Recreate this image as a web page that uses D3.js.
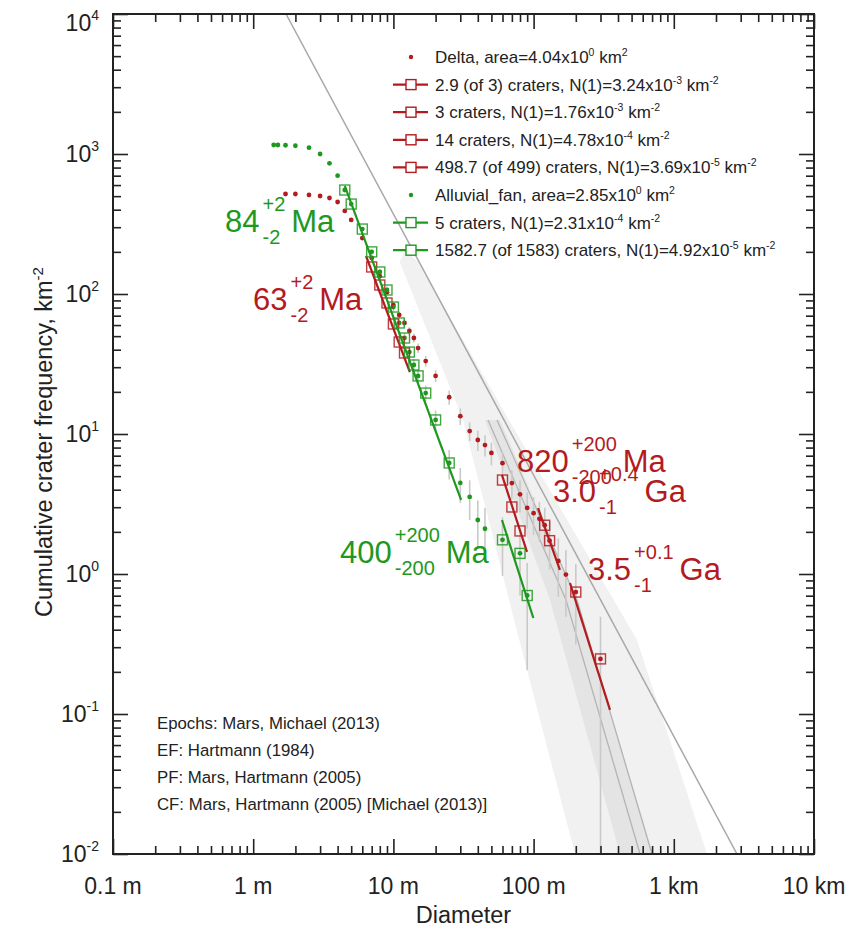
<!DOCTYPE html>
<html><head><meta charset="utf-8">
<script src="https://cdn.jsdelivr.net/npm/d3@7"></script>
<style>body{margin:0;background:#fff} text{font-family:"Liberation Sans",Arial,Helvetica,sans-serif}</style>
</head><body><svg id="c" width="849" height="934"></svg>
<script>
// ---------------- data ----------------
// Delta (red) cumulative crater frequency; D in metres, N in km^-2, sigma = error (km^-2)
const deltaD = [1.7,2,2.5,3,3.5,4,4.5,5,6,7,8,9,10,11,12,13,14,15,17,20,25,30,35,40,45,50,60,70,80,90,100,110,120,130,150,170,200,300];
const deltaN = [518,518,510,501,485,454,392,338,251,181,134,103,83.4,70.8,62.1,54.4,48.5,41.1,33.2,26.0,18.3,13.4,10.5,9.06,8.34,7.32,6.19,4.46,3.71,2.97,2.72,2.48,2.23,1.73,1.24,0.99,0.743,0.2475];
const deltaSigma = [11.3,11.3,11.2,11.1,10.96,10.6,9.85,9.15,7.88,6.69,5.76,5.05,4.54,4.19,3.92,3.67,3.46,3.19,2.87,2.54,2.13,1.82,1.61,1.50,1.44,1.35,1.24,1.05,0.958,0.857,0.821,0.783,0.743,0.654,0.554,0.495,0.429,0.2475];
// Alluvial fan (green)
const fanD = [1.4,1.5,1.7,2,2.5,3,3.5,4,4.5,5,6,7,8,9,10,11,12,13,14,15,17,20,25,30,35,40,45,60,80,90];
const fanN = [1160,1160,1155,1145,1109,1000,858,700,553,439,291,200,143.6,106.8,80.7,62.1,48.5,38.5,31.1,26.0,19.6,12.6,6.21,4.47,3.55,2.43,2.105,1.754,1.404,0.702];
const fanSigma = [20.2,20.2,20.1,20.0,19.7,18.7,17.4,15.7,13.9,12.4,10.1,8.38,7.10,6.12,5.32,4.67,4.13,3.68,3.30,3.02,2.62,2.10,1.48,1.25,1.12,0.923,0.859,0.784,0.702,0.496];

// Fits: line ends [D], [N]; squares (points in fit range) [D], [N]
const fitLineD = [[6.38,13.1],[59.5,89.7],[107.5,154],[181.8,350.8],[4.5,30.4],[59.5,99.6]];
const fitLineN = [[186.8,27.7],[5.09,1.44],[2.96,1.07],[0.863,0.107],[591,3.38],[2.43,0.485]];
const fitSqD = [[7,8,9,10,11,12],[60,70,80],[120,130],[200,300],[4.5,5,6,7,8,9,10,11,12,13,14,15,17,20,25],[60,80,90]];
const fitSqN = [[156,115.9,86.3,61.1,45.4,37.9],[4.69,3.01,2.03],[2.23,1.73],[0.743,0.2475],[553,439,291,200,143.6,106.8,80.7,62.1,48.5,38.5,31.1,26.0,19.6,12.6,6.21],[1.754,1.404,0.702]];
const fitSeries = ["delta","delta","delta","delta","fan","fan"];

// Age labels: value, +err, -err, unit
const ageValue = ["63","820","3.0","3.5","84","400"];
const agePlus  = ["+2","+200","+0.4","+0.1","+2","+200"];
const ageMinus = ["-2","-200","-1","-1","-2","-200"];
const ageUnit  = ["Ma","Ma","Ga","Ga","Ma","Ma"];

// Reference curves (EF: Hartmann 1984) and epoch shading
const efD = [1.714, 2823];
const efN = [1e4, 0.01];
const bandD = [
  [12.1,15.0,66.8,546.5,1725,197.4,89.7,31.4,11.1],
  [45.0,57.6,204,710.6,413,130.9]
];
const bandN = [
  [206,169,12.6,0.338,0.01,0.01,0.206,12.6,169],
  [12.6,12.6,0.652,0.01,0.01,0.652]
];
const grayLineD = [[54.8,204,698.9],[47.3,170.2,574]];
const grayLineN = [[12.6,0.652,0.01],[12.6,0.652,0.01]];

// Legend
const legendKind = ["dot","fit","fit","fit","fit","dot","fit","fit"];
const legendSeries = ["delta","delta","delta","delta","delta","fan","fan","fan"];
const legendMain = ["Delta, area=4.04x10","2.9 (of 3) craters, N(1)=3.24x10","3 craters, N(1)=1.76x10","14 craters, N(1)=4.78x10","498.7 (of 499) craters, N(1)=3.69x10","Alluvial_fan, area=2.85x10","5 craters, N(1)=2.31x10","1582.7 (of 1583) craters, N(1)=4.92x10"];
const legendExp = ["0","-3","-3","-4","-5","0","-4","-5"];
const legendUnitExp = ["2","-2","-2","-2","-2","2","-2","-2"];

const notes = ["Epochs: Mars, Michael (2013)","EF: Hartmann (1984)","PF: Mars, Hartmann (2005)","CF: Mars, Hartmann (2005) [Michael (2013)]"];

const xTickValues = [0.1,1,10,100,1000,10000];
const xTickLabels = ["0.1 m","1 m","10 m","100 m","1 km","10 km"];
const yTickValues = [1e-2,1e-1,1,10,100,1000,10000];
const yTickExp = ["-2","-1","0","1","2","3","4"];

// ---------------- drawing ----------------
const W=849,H=934, L=113,R=814,T=14,B=854;
const color = {delta:"#b31b1f", fan:"#1e981e"};
const svg = d3.select("#c");
const x = d3.scaleLog().domain([0.1,10000]).range([L,R]);
const y = d3.scaleLog().domain([0.01,10000]).range([B,T]);
svg.append("defs").append("clipPath").attr("id","pc").append("rect").attr("x",L).attr("y",T).attr("width",R-L).attr("height",B-T);
const plot = svg.append("g").attr("clip-path","url(#pc)");

// bands
const bandFill = ["#f1f1f1","#e4e4e4"];
bandD.forEach((ds,i)=>{
  plot.append("path").attr("d", d3.line()(ds.map((d,j)=>[x(d),y(bandN[i][j])]))+"Z")
    .attr("fill",bandFill[i]).attr("stroke","none");
});
grayLineD.forEach((ds,i)=>{
  plot.append("path").attr("d", d3.line()(ds.map((d,j)=>[x(d),y(grayLineN[i][j])])))
    .attr("fill","none").attr("stroke","#b4b4b4").attr("stroke-width",1.3);
});
plot.append("path").attr("d", d3.line()(efD.map((d,j)=>[x(d),y(efN[j])])))
  .attr("fill","none").attr("stroke","#a8a8a8").attr("stroke-width",1.5);

// error bars
function errbars(D,N,S){
  D.forEach((d,i)=>{
    const lo = N[i]-S[i];
    const y1 = lo>0 ? y(lo) : B+5;
    plot.append("line").attr("x1",x(d)).attr("x2",x(d)).attr("y1",y(N[i]+S[i])).attr("y2",y1)
      .attr("stroke","#c9c9c9").attr("stroke-width",1.6);
  });
}
errbars(deltaD,deltaN,deltaSigma);
errbars(fanD,fanN,fanSigma);

// dots
function dots(D,N,c){
  plot.selectAll(null).data(D).enter().append("circle")
    .attr("cx",d=>x(d)).attr("cy",(d,i)=>y(N[i])).attr("r",2.4).attr("fill",c);
}
dots(deltaD,deltaN,color.delta);
dots(fanD,fanN,color.fan);

// fit lines & squares
fitLineD.forEach((ds,i)=>{
  const c = color[fitSeries[i]];
  plot.append("path").attr("d", d3.line()(ds.map((d,j)=>[x(d),y(fitLineN[i][j])])))
    .attr("stroke",c).attr("stroke-width",2.2).attr("fill","none");
  fitSqD[i].forEach((d,j)=>{
    plot.append("rect").attr("x",x(d)-5).attr("y",y(fitSqN[i][j])-5).attr("width",10).attr("height",10)
      .attr("fill","none").attr("stroke",c).attr("stroke-width",1.4).attr("opacity",0.85);
  });
});

// age labels (layout positions)
const agePos = [[253,310,"delta"],[517,472,"delta"],[553,502,"delta"],[588,580,"delta"],[225,232,"fan"],[340,563,"fan"]];
ageValue.forEach((v,i)=>{
  const [px,py,s] = agePos[i];
  const c = color[s];
  const g = svg.append("g").attr("fill",c);
  const t = g.append("text").attr("x",px).attr("y",py).attr("font-size",31).text(v);
  const w = t.node().getComputedTextLength();
  const sp = g.append("text").attr("x",px+w+3).attr("y",py-21).attr("font-size",20).text(agePlus[i]);
  const sb = g.append("text").attr("x",px+w+3).attr("y",py+12).attr("font-size",20).text(ageMinus[i]);
  const w2 = Math.max(sp.node().getComputedTextLength(), sb.node().getComputedTextLength());
  g.append("text").attr("x",px+w+3+w2+6).attr("y",py).attr("font-size",31).text(ageUnit[i]);
});

// legend
const lgX = 411, lgY0 = 57, lgDy = 27.6;
legendMain.forEach((m,i)=>{
  const cy = lgY0 + i*lgDy;
  const c = color[legendSeries[i]];
  if(legendKind[i]==="dot"){
    svg.append("circle").attr("cx",lgX).attr("cy",cy).attr("r",2.2).attr("fill",c);
  } else {
    svg.append("line").attr("x1",lgX-18).attr("x2",lgX+17).attr("y1",cy).attr("y2",cy).attr("stroke",c).attr("stroke-width",2.2);
    svg.append("rect").attr("x",lgX-5).attr("y",cy-5).attr("width",10).attr("height",10).attr("fill","#fff").attr("stroke",c).attr("stroke-width",1.4);
  }
  const t = svg.append("text").attr("x",435).attr("y",cy+6).attr("font-size",17).attr("fill","#222");
  t.append("tspan").text(m);
  t.append("tspan").attr("dy",-7).attr("font-size",10.5).text(legendExp[i]);
  t.append("tspan").attr("dy",7).attr("font-size",17).text(" km");
  t.append("tspan").attr("dy",-7).attr("font-size",10.5).text(legendUnitExp[i]);
});

// notes
notes.forEach((n,i)=>{
  svg.append("text").attr("x",157).attr("y",729+i*27).attr("font-size",16.8).attr("fill","#222").text(n);
});

// axes ticks (inward)
const minorX = [];
for(let e=-1;e<4;e++) for(let k=2;k<10;k++) minorX.push(k*Math.pow(10,e));
const minorY = [];
for(let e=-2;e<4;e++) for(let k=2;k<10;k++) minorY.push(k*Math.pow(10,e));
function ax(gen, tr, vals, len){
  const g = svg.append("g").attr("transform",tr).call(gen.tickValues(vals).tickSize(len).tickFormat(""));
  g.select(".domain").remove();
  g.selectAll("line").attr("stroke","#222").attr("stroke-width",1.6);
}
ax(d3.axisBottom(x),`translate(0,${B})`,xTickValues,-15);
ax(d3.axisBottom(x),`translate(0,${B})`,minorX,-8);
ax(d3.axisTop(x),`translate(0,${T})`,xTickValues,-15);
ax(d3.axisTop(x),`translate(0,${T})`,minorX,-8);
ax(d3.axisLeft(y),`translate(${L},0)`,yTickValues,-15);
ax(d3.axisLeft(y),`translate(${L},0)`,minorY,-8);
ax(d3.axisRight(y),`translate(${R},0)`,yTickValues,-15);
ax(d3.axisRight(y),`translate(${R},0)`,minorY,-8);
svg.append("rect").attr("x",L).attr("y",T).attr("width",R-L).attr("height",B-T).attr("fill","none").attr("stroke","#222").attr("stroke-width",2);

// tick labels
xTickValues.forEach((v,i)=>{
  svg.append("text").attr("x",x(v)).attr("y",894).attr("text-anchor","middle").attr("font-size",23).attr("fill","#222").text(xTickLabels[i]);
});
yTickValues.forEach((v,i)=>{
  const t = svg.append("text").attr("x",99).attr("y",Math.max(y(v)+8,31)).attr("text-anchor","end").attr("font-size",23).attr("fill","#222");
  t.append("tspan").text("10");
  t.append("tspan").attr("dy",-11).attr("font-size",14).text(yTickExp[i]);
});
svg.append("text").attr("x",(L+R)/2).attr("y",923).attr("text-anchor","middle").attr("font-size",23.5).attr("fill","#222").text("Diameter");
const yt = svg.append("text").attr("transform",`translate(52,442) rotate(-90)`).attr("text-anchor","middle").attr("font-size",23.5).attr("fill","#222");
yt.append("tspan").text("Cumulative crater frequency, km");
yt.append("tspan").attr("dy",-9).attr("font-size",15).text("-2");
</script></body></html>
